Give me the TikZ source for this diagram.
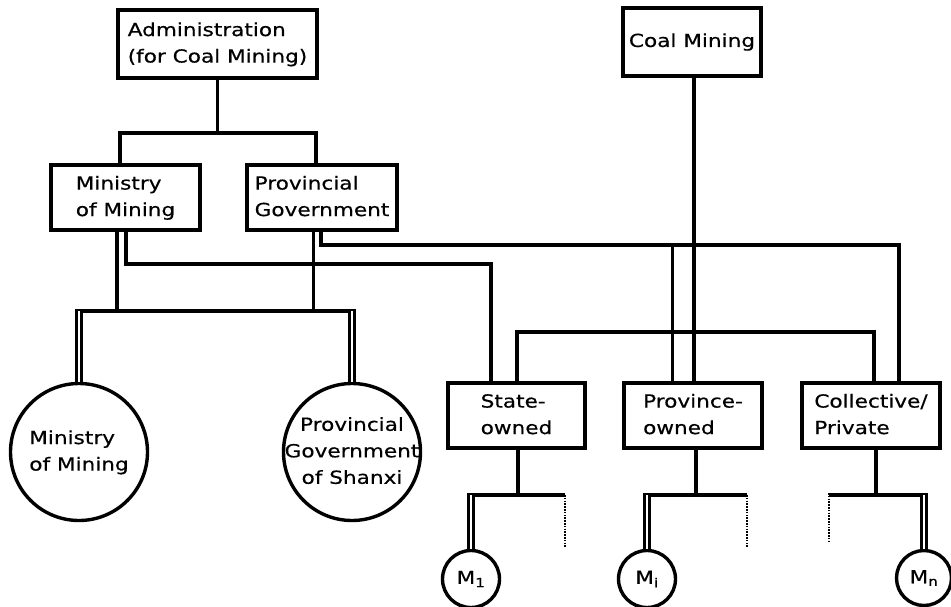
\documentclass[tikz,border=0pt]{standalone}
\usepackage{fontspec}
\setmainfont[FakeStretch=1.2,FakeBold=0.5]{DejaVu Sans}
\newcommand{\lns}[1]{\begin{tabular}{@{}l@{}}#1\end{tabular}}
\newcommand{\cns}[1]{\begin{tabular}{@{}c@{}}#1\end{tabular}}
\begin{document}
\begin{tikzpicture}[x=1pt,y=-1pt,line width=3.4pt,
  box/.style={draw,rectangle,inner sep=0pt,font=\fontsize{18}{26.5}\selectfont},
  circ/.style={draw,circle,inner sep=0pt,font=\fontsize{18}{26.5}\selectfont},
  dbl/.style={double,double distance=2pt,line width=2.8pt},
  thinline/.style={line width=3pt},
  dotline/.style={line width=2.8pt,dash pattern=on 1.6pt off 1.2pt}]
\useasboundingbox (0,0) rectangle (951,606);
% boxes
\node[box,minimum width=199pt,minimum height=68pt] (admin) at (217.5,44) {\lns{Administration\\(for Coal Mining)}};
\node[box,minimum width=138pt,minimum height=68pt] (coal) at (692,42) {Coal Mining};
\node[box,minimum width=149pt,minimum height=65pt] (minist) at (125.5,197.5) {\lns{Ministry\\of Mining}\hspace{20pt}};
\node[box,minimum width=150pt,minimum height=65pt] (provgov) at (322,197.5) {\lns{Provincial\\Government}\hspace{6pt}};
\node[box,minimum width=137pt,minimum height=65pt] (state) at (516.5,415.5) {\lns{State-\\owned}};
\node[box,minimum width=138pt,minimum height=65pt] (provown) at (693,415.5) {\lns{Province-\\owned}};
\node[box,minimum width=138pt,minimum height=65pt] (coll) at (871,415.5) {\lns{Collective/\\Private}};
% circles
\node[circ,minimum size=137pt] (cmin) at (79,452) {\raisebox{4pt}{\lns{Ministry\\of Mining}}};
\node[circ,minimum size=137pt] (cprov) at (352,452) {\makebox[0pt]{\cns{Provincial\\Government\\of Shanxi}}};
\node[circ,minimum size=57pt] (m1) at (471,579) {M\textsubscript{1}};
\node[circ,minimum size=57pt] (mi) at (647,579) {M\textsubscript{i}};
\node[circ,minimum size=55pt] (mn) at (924,578) {M\textsubscript{n}};
% level coordinates
\coordinate (yA) at (0,133);
\coordinate (yB) at (0,311);
\coordinate (yC) at (0,264);
\coordinate (yD) at (0,245);
\coordinate (yF) at (0,332);
\coordinate (yG) at (0,495);
% attachment points
\coordinate (mt) at ([xshift=-5.5pt]minist.north);
\coordinate (pt) at ([xshift=-6pt]provgov.north);
\coordinate (ms1) at ([xshift=-8.5pt]minist.south);
\coordinate (ms2) at ([xshift=0.5pt]minist.south);
\coordinate (ps1) at ([xshift=-9pt]provgov.south);
\coordinate (ps2) at ([xshift=-1pt]provgov.south);
\coordinate (sT1) at ([xshift=-25.5pt]state.north);
\coordinate (sT2) at ([xshift=0.5pt]state.north);
\coordinate (pT1) at ([xshift=-21pt]provown.north);
\coordinate (pT2) at ([xshift=1pt]provown.north);
\coordinate (cT1) at ([xshift=3pt]coll.north);
\coordinate (cT2) at ([xshift=28pt]coll.north);
\coordinate (sB) at ([xshift=1.5pt]state.south);
\coordinate (pB) at ([xshift=3pt]provown.south);
\coordinate (cB) at ([xshift=5pt]coll.south);
% top level
\draw (admin.south) -- (admin.south |- yA);
\draw (mt) |- (pt |- yA) -- (pt);
% to the big circles
\draw (ms1) -- (ms1 |- yB);
\draw[thinline] (ps1) -- (ps1 |- yB);
\coordinate (cmb) at (cmin.north |- yB);
\coordinate (cpb) at (cprov.north |- yB);
\draw ([xshift=-4pt]cmb) -- ([xshift=4pt]cpb);
\draw[dbl] (cmin.north) -- (cmb);
\draw[dbl] (cprov.north) -- (cpb);
% ministry to state-owned
\draw (ms2) |- (sT1 |- yC) -- (sT1);
% provincial government to province-owned and collective
\draw (ps2) |- (cT2 |- yD) -- (cT2);
\draw[thinline] (pT1 |- yD) -- (pT1);
% coal mining
\draw (coal.south -| pT2) -- (pT2);
\draw (sT2) |- (cT1 |- yF) -- (cT1);
% enterprises to mines
\draw (sB) -- (sB |- yG);
\draw (pB) -- (pB |- yG);
\draw (cB) -- (cB |- yG);
\coordinate (m1b) at (m1.north |- yG);
\coordinate (mib) at (mi.north |- yG);
\coordinate (mnb) at (mn.north |- yG);
\coordinate (g2) at (565,495);
\coordinate (h2) at (747,495);
\coordinate (i1) at (829,495);
\draw ([xshift=-4pt]m1b) -- (g2);
\draw ([xshift=-4pt]mib) -- (h2);
\draw (i1) -- ([xshift=4pt]mnb);
\draw[dbl] (m1.north) -- (m1b);
\draw[dbl] (mi.north) -- (mib);
\draw[dbl] (mn.north) -- (mnb);
\draw[dotline] (g2) -- ++(0,52);
\draw[dotline] (h2) -- ++(0,52);
\draw[dotline] ([yshift=2pt]i1) -- ++(0,50);
\end{tikzpicture}
\end{document}
